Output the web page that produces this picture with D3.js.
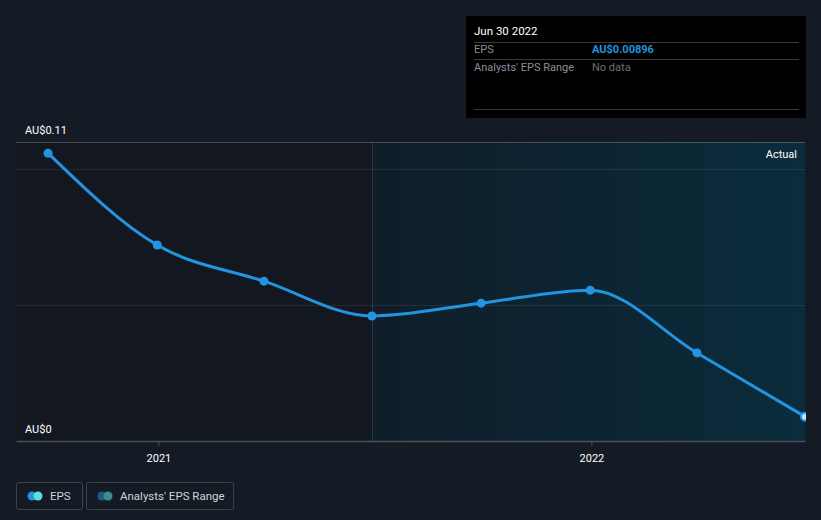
<!DOCTYPE html>
<html><head><meta charset="utf-8">
<script src="https://cdn.jsdelivr.net/npm/d3@7"></script>
<style>
html,body{margin:0;padding:0;background:#151b24;}
svg{display:block;font-family:Roboto,"Noto Sans",sans-serif;}
</style></head>
<body>
<svg id="c" width="821" height="520"></svg>
<script>
const dates = ["2020-09-30","2020-12-31","2021-03-31","2021-06-30","2021-09-30","2021-12-31","2022-03-31","2022-06-30"];
const eps = [0.1059, 0.0721, 0.0588, 0.0460, 0.0507, 0.0555, 0.0324, 0.00896];
const yTickValues = [0, 0.11];
const yTickLabels = ["AU$0", "AU$0.11"];
const gridValues = [0.05, 0.10];
const xTickLabels = ["2021", "2022"];
const actualStart = "2021-06-30";
const tooltip = {date: "Jun 30 2022", rows: [["EPS", "AU$0.00896"], ["Analysts' EPS Range", "No data"]]};
const legendItems = ["EPS", "Analysts' EPS Range"];

(function () {
const parse = d3.timeParse("%Y-%m-%d");
const svg = d3.select("#c");
const W = 821, H = 520;
const pL = 16, pR = 805, pT = 142, pB = 441;

svg.append("rect").attr("width", W).attr("height", H).attr("fill", "#151b24");

const x = d3.scaleTime()
  .domain([parse("2020-09-03"), parse("2022-06-30")])
  .range([pL, pR]);
const y = d3.scaleLinear().domain([0, 0.11]).range([pB, pT]);

const defs = svg.append("defs");
const g1 = defs.append("linearGradient").attr("id", "actg").attr("x1", 0).attr("x2", 1).attr("y1", 0).attr("y2", 0);
g1.append("stop").attr("offset", 0).attr("stop-color", "#0f1d29");
g1.append("stop").attr("offset", 1).attr("stop-color", "#0a2c3c");

const xa = Math.round(x(parse(actualStart))) + 0.5;
svg.append("rect").attr("x", pL).attr("y", pT)
  .attr("width", xa - pL).attr("height", pB - pT)
  .attr("fill", "#131820");
svg.append("rect").attr("x", xa).attr("y", pT)
  .attr("width", pR - xa).attr("height", pB - pT)
  .attr("fill", "url(#actg)");
svg.append("line").attr("x1", xa).attr("x2", xa)
  .attr("y1", pT).attr("y2", pB).attr("stroke", "#1c3a48").attr("stroke-width", 1);

svg.selectAll(".grid").data(gridValues).enter().append("line")
  .attr("x1", pL).attr("x2", pR)
  .attr("y1", d => Math.round(y(d)) + 0.5).attr("y2", d => Math.round(y(d)) + 0.5)
  .attr("stroke", "#ffffff").attr("stroke-opacity", 0.08);
svg.append("line").attr("x1", pL).attr("x2", pR)
  .attr("y1", Math.round(y(0.11)) + 0.5).attr("y2", Math.round(y(0.11)) + 0.5)
  .attr("stroke", "#ffffff").attr("stroke-opacity", 0.22);

svg.selectAll(".ylab").data(yTickValues).enter().append("text")
  .attr("x", 25).attr("y", d => y(d) - 8)
  .attr("fill", "#ffffff").attr("font-size", 11)
  .text((d, i) => yTickLabels[i]);

const xAxis = d3.axisBottom(x)
  .tickValues(xTickLabels.map(t => parse(t + "-01-01")))
  .tickFormat(d3.timeFormat("%Y"))
  .tickSize(5).tickSizeOuter(0);
const ax = svg.append("g").attr("transform", `translate(0,${pB})`).call(xAxis);
ax.select(".domain").attr("stroke", "#4a4f57").attr("stroke-width", 1.5);
ax.selectAll(".tick line").attr("stroke", "#4a4f57");
ax.selectAll(".tick text").attr("fill", "#ffffff").attr("font-size", 11)
  .attr("font-family", "Roboto, sans-serif").attr("dy", "1.2em");

svg.append("text").attr("x", pR - 8).attr("y", 158).attr("text-anchor", "end")
  .attr("fill", "#ffffff").attr("font-size", 11).text("Actual");

const data = dates.map((d, i) => ({d: parse(d), v: eps[i]}));
const line = d3.line().x(d => x(d.d)).y(d => y(d.v)).curve(d3.curveMonotoneX);
svg.append("path").datum(data).attr("d", line)
  .attr("fill", "none").attr("stroke", "#2394df").attr("stroke-width", 3);
svg.selectAll(".pt").data(data.slice(0, -1)).enter().append("circle")
  .attr("cx", d => x(d.d)).attr("cy", d => y(d.v)).attr("r", 4.5)
  .attr("fill", "#2394df");
const last = data[data.length - 1];
svg.append("circle").attr("cx", x(last.d)).attr("cy", y(last.v)).attr("r", 4)
  .attr("fill", "#bfe6ff").attr("stroke", "#2394df").attr("stroke-width", 2);

svg.append("rect").attr("x", pR + 1).attr("y", 120).attr("width", W - pR).attr("height", 320)
  .attr("fill", "#151b24");

const tt = svg.append("g").attr("transform", "translate(466,16)");
tt.append("rect").attr("width", 340).attr("height", 102).attr("fill", "#000000");
tt.append("text").attr("x", 8).attr("y", 19).attr("fill", "#ffffff").attr("font-size", 11.5).text(tooltip.date);
[26, 43, 93].forEach(yy => tt.append("line").attr("x1", 8).attr("x2", 333)
  .attr("y1", yy + 0.5).attr("y2", yy + 0.5).attr("stroke", "#3a3a3a"));
tooltip.rows.forEach((r, i) => {
  tt.append("text").attr("x", 8).attr("y", 37 + i * 17.5).attr("fill", "#8a8f96").attr("font-size", 11).text(r[0]);
  tt.append("text").attr("x", 126).attr("y", 37 + i * 17.5)
    .attr("fill", i === 0 ? "#2394df" : "#6b7077")
    .attr("font-weight", i === 0 ? "bold" : "normal")
    .attr("font-size", 11).text(r[1]);
});

const lg = [{x: 16, w: 66, c1: "#2394df", c2: "#5fe0d6"}, {x: 86, w: 147, c1: "#1f5b86", c2: "#3f8c8a"}];
lg.forEach((l, i) => {
  const g = svg.append("g").attr("transform", `translate(${l.x},482)`);
  g.append("rect").attr("x", 0.5).attr("y", 0.5).attr("width", l.w).attr("height", 27).attr("rx", 2)
    .attr("fill", "none").attr("stroke", "#3d424a");
  g.append("circle").attr("cx", 16).attr("cy", 14).attr("r", 4.5).attr("fill", l.c1);
  g.append("circle").attr("cx", 22).attr("cy", 14).attr("r", 4.5).attr("fill", l.c2);
  g.append("text").attr("x", 34).attr("y", 18).attr("fill", "#cfd2d6").attr("font-size", 11.5).text(legendItems[i]);
});
})();
</script>
</body></html>
